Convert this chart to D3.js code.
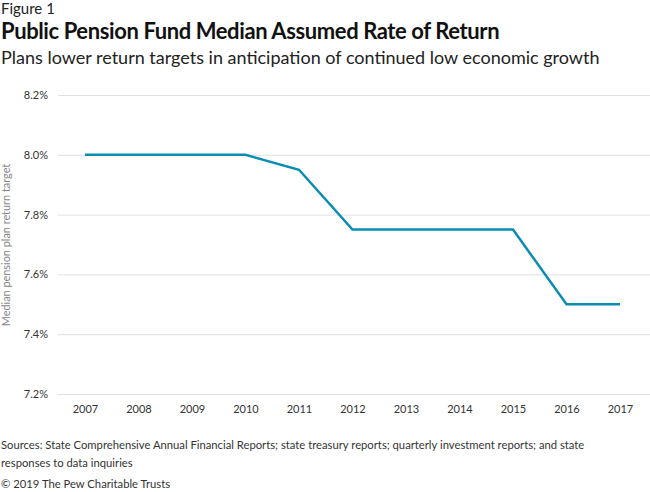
<!DOCTYPE html>
<html><head><meta charset="utf-8">
<script src="https://d3js.org/d3.v7.min.js"></script>
<style>body{margin:0;background:#fff;}svg{display:block;font-family:Lato,sans-serif;}</style>
</head><body>
<script>
const years = [2007,2008,2009,2010,2011,2012,2013,2014,2015,2016,2017];
const rates = [8.0,8.0,8.0,8.0,7.95,7.75,7.75,7.75,7.75,7.5,7.5];
const yTicks = [7.2,7.4,7.6,7.8,8.0,8.2];

const W=650,H=492;
const svg=d3.select("body").append("svg").attr("width",W).attr("height",H);
const x=d3.scalePoint().domain(years).range([85,620]);
const y=d3.scaleLinear().domain([7.2,8.2]).range([394,95]);

svg.append("text").attr("x",1).attr("y",14).attr("font-size",15).attr("fill","#222").text("Figure 1");
svg.append("text").attr("x",1).attr("y",39).attr("font-size",22).attr("font-weight",700).attr("fill","#111").attr("letter-spacing","-0.4").text("Public Pension Fund Median Assumed Rate of Return");
svg.append("text").attr("x",1).attr("y",64).attr("font-size",18).attr("fill","#222").text("Plans lower return targets in anticipation of continued low economic growth");

const gy=svg.append("g").attr("transform","translate(58,0)")
 .call(d3.axisLeft(y).tickValues(yTicks).tickSize(-592).tickFormat(d=>d.toFixed(1)+"%"));
gy.select(".domain").remove();
gy.selectAll(".tick line").attr("stroke","#e0e0e0");
gy.selectAll(".tick text").attr("x",-10).attr("font-size",11).attr("fill","#333").attr("font-family","Lato,sans-serif");

const gx=svg.append("g").attr("transform","translate(0,394)")
 .call(d3.axisBottom(x).tickSize(0).tickPadding(11));
gx.select(".domain").remove();
gx.selectAll(".tick text").attr("font-size",11).attr("fill","#333").attr("font-family","Lato,sans-serif");

svg.append("text").attr("transform","translate(10,245) rotate(-90)").attr("text-anchor","middle")
 .attr("font-size",10.9).attr("fill","#888").text("Median pension plan return target");

svg.append("path").datum(years.map((d,i)=>[d,rates[i]]))
 .attr("fill","none").attr("stroke","#0a8db3").attr("stroke-width",2.5)
 .attr("d",d3.line().x(d=>x(d[0])).y(d=>y(d[1])));

svg.append("text").attr("x",1).attr("y",449).attr("font-size",11.25).attr("fill","#333").text("Sources: State Comprehensive Annual Financial Reports; state treasury reports; quarterly investment reports; and state");
svg.append("text").attr("x",1).attr("y",467).attr("font-size",11.25).attr("fill","#333").text("responses to data inquiries");
svg.append("text").attr("x",1).attr("y",488).attr("font-size",11.25).attr("fill","#333").text("© 2019 The Pew Charitable Trusts");
</script>
</body></html>
